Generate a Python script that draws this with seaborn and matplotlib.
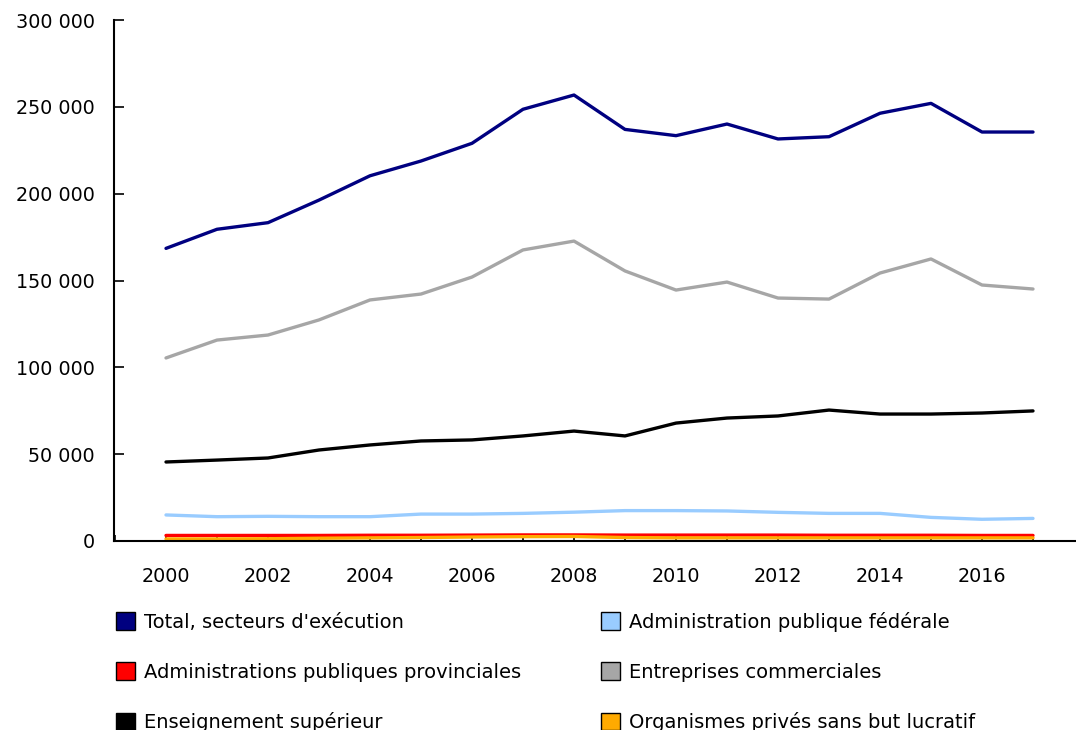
import matplotlib
matplotlib.use("Agg")
import matplotlib.pyplot as plt
from matplotlib.patches import Patch
from matplotlib.ticker import FuncFormatter, MultipleLocator
import seaborn as sns
import pandas as pd

# Données
annees = list(range(2000, 2018))
total = [168.5, 179.5, 183.3, 196.3, 210.3, 218.8, 229.0, 248.6, 256.8, 237.0,
         233.4, 240.1, 231.5, 232.8, 246.3, 252.0, 235.5, 235.5]
federale = [15.0, 14.0, 14.2, 14.0, 14.0, 15.5, 15.5, 15.9, 16.6, 17.5,
            17.5, 17.3, 16.5, 15.9, 15.9, 13.6, 12.5, 13.0]
provinciales = [3.2, 3.2, 3.2, 3.2, 3.3, 3.3, 3.4, 3.5, 3.5, 3.4,
                3.4, 3.4, 3.4, 3.3, 3.3, 3.3, 3.2, 3.2]
entreprises = [105.4, 115.7, 118.6, 127.3, 138.8, 142.2, 152.0, 167.6, 172.7, 155.5,
               144.5, 149.1, 139.9, 139.3, 154.3, 162.4, 147.4, 145.1]
enseignement = [45.5, 46.6, 47.8, 52.4, 55.3, 57.6, 58.2, 60.5, 63.3, 60.5,
                67.9, 70.8, 72.0, 75.4, 73.1, 73.1, 73.7, 74.9]
organismes = [1.2, 1.2, 1.3, 1.6, 1.8, 2.0, 2.3, 2.5, 2.6, 2.0,
              1.8, 1.8, 1.8, 1.8, 1.8, 1.8, 1.8, 1.8]

series = {
    "Total, secteurs d'exécution": total,
    "Administration publique fédérale": federale,
    "Administrations publiques provinciales": provinciales,
    "Entreprises commerciales": entreprises,
    "Enseignement supérieur": enseignement,
    "Organismes privés sans but lucratif": organismes,
}
couleurs = {
    "Total, secteurs d'exécution": "#000080",
    "Administration publique fédérale": "#99ccff",
    "Administrations publiques provinciales": "#ff0000",
    "Entreprises commerciales": "#a6a6a6",
    "Enseignement supérieur": "#000000",
    "Organismes privés sans but lucratif": "#ffaa00",
}

rows = []
for nom, vals in series.items():
    for a, v in zip(annees, vals):
        rows.append({"annee": a, "valeur": v * 1000, "serie": nom})
df = pd.DataFrame(rows)

sns.set_style("white")
plt.rcParams["font.family"] = ["DejaVu Sans"]
plt.rcParams["font.size"] = 14
plt.rcParams["text.color"] = "black"
plt.rcParams["xtick.color"] = "black"
plt.rcParams["ytick.color"] = "black"

fig = plt.figure(figsize=(10.76, 7.3), dpi=100)
ax = fig.add_axes([114 / 1076, 1 - 541 / 730, 1 - 114 / 1076, (541 - 20) / 730])

sns.lineplot(data=df, x="annee", y="valeur", hue="serie", palette=couleurs,
             linewidth=2.4, legend=False, ax=ax)

ax.set_xlim(2000 - 52 / 51, 2017 + 43 / 51)
ax.set_ylim(0, 300000)
ax.set_xlabel("")
ax.set_ylabel("")

ax.xaxis.set_major_locator(MultipleLocator(2))
ax.xaxis.set_minor_locator(MultipleLocator(1))
ax.yaxis.set_major_locator(MultipleLocator(50000))
ax.yaxis.set_major_formatter(FuncFormatter(lambda v, p: f"{int(v):,}".replace(",", " ")))
ax.tick_params(axis="x", which="both", direction="in", length=4, width=1.2,
               color="black", pad=19, labelsize=13.8)
ax.tick_params(axis="y", which="major", direction="in", length=7, width=1.2,
               color="black", pad=14, labelsize=13.8)
ax.tick_params(bottom=True, left=True, which="both")
ax.tick_params(axis="y", which="minor", left=False)

for s in ["top", "right"]:
    ax.spines[s].set_visible(False)
for s in ["left", "bottom"]:
    ax.spines[s].set_color("black")
    ax.spines[s].set_linewidth(1.5)

# Légende : colonnes remplies de haut en bas
ordre = ["Total, secteurs d'exécution", "Administrations publiques provinciales",
         "Enseignement supérieur", "Administration publique fédérale",
         "Entreprises commerciales", "Organismes privés sans but lucratif"]
handles = [Patch(facecolor=couleurs[n], edgecolor="black", linewidth=1) for n in ordre]
fig.legend(handles, ordre, ncol=2, loc="upper left",
           bbox_to_anchor=(98 / 1076, 1 - 594 / 730), frameon=False,
           handlelength=1.0, handleheight=1.0, handletextpad=0.45,
           labelspacing=1.58, columnspacing=4.1, fontsize=14)

fig.savefig("out.png", dpi=100)
